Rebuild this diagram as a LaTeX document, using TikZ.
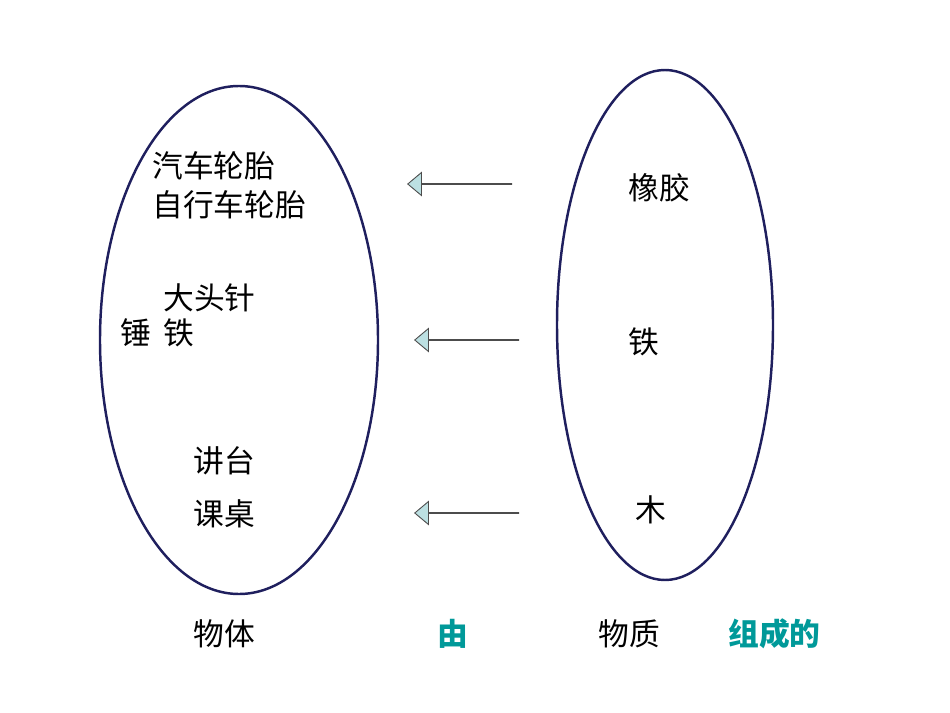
\documentclass[tikz,border=0pt]{standalone}
\usepackage{fontspec}
\setmainfont{Noto Sans CJK SC}
\usetikzlibrary{shapes.arrows}
\definecolor{ringblue}{HTML}{1F1F5E}
\definecolor{arrowfill}{HTML}{BCE0E2}
\definecolor{tealtext}{HTML}{009999}
\begin{document}
\begin{tikzpicture}[x=0.02cm,y=-0.02cm,
    every node/.style={font=\fontsize{17.5pt}{20pt}\selectfont, inner sep=0pt},
    word/.style={anchor=west},
    linkword/.style={anchor=west, text=tealtext, font=\fontsize{17.5pt}{20pt}\selectfont\bfseries},
    ring/.style={draw=ringblue, line width=1.4pt},
    flowarrow/.style={single arrow, draw=black!70, fill=arrowfill, line width=0.5pt,
        minimum height=2.08cm, minimum width=0.46cm, single arrow head extend=0.22cm,
        single arrow tip angle=80, shape border rotate=180}]
\useasboundingbox (0,0) rectangle (950,713);
% two groups
\draw[ring] (239,340) ellipse [x radius=139, y radius=254];
\draw[ring] (665,325) ellipse [x radius=108, y radius=255];
% objects
\node[word] (tyre) at (152,166) {汽车轮胎};
\node[word] (biketyre) at (152,205) {自行车轮胎};
\node[word] (pin) at (163,298) {大头针};
\node[word] (hammer) at (120,333) {锤};
\node[word] (iron1) at (163,333) {铁};
\node[word] (podium) at (193,461) {讲台};
\node[word] (desk) at (193,514) {课桌};
% materials
\node[word] (rubber) at (628,188) {橡胶};
\node[word] (iron2) at (628,342) {铁};
\node[word] (wood) at (635,510) {木};
% arrows
\node[flowarrow] (arr1) at (460,184) {};
\node[flowarrow] (arr2) at (467,340) {};
\node[flowarrow] (arr3) at (467,513) {};
% bottom line
\node[word] (objects) at (193,634) {物体};
\node[linkword] (you) at (437,634) {由};
\node[word] (matter) at (598,634) {物质};
\node[linkword] (made) at (728,634) {组成的};
\end{tikzpicture}
\end{document}
